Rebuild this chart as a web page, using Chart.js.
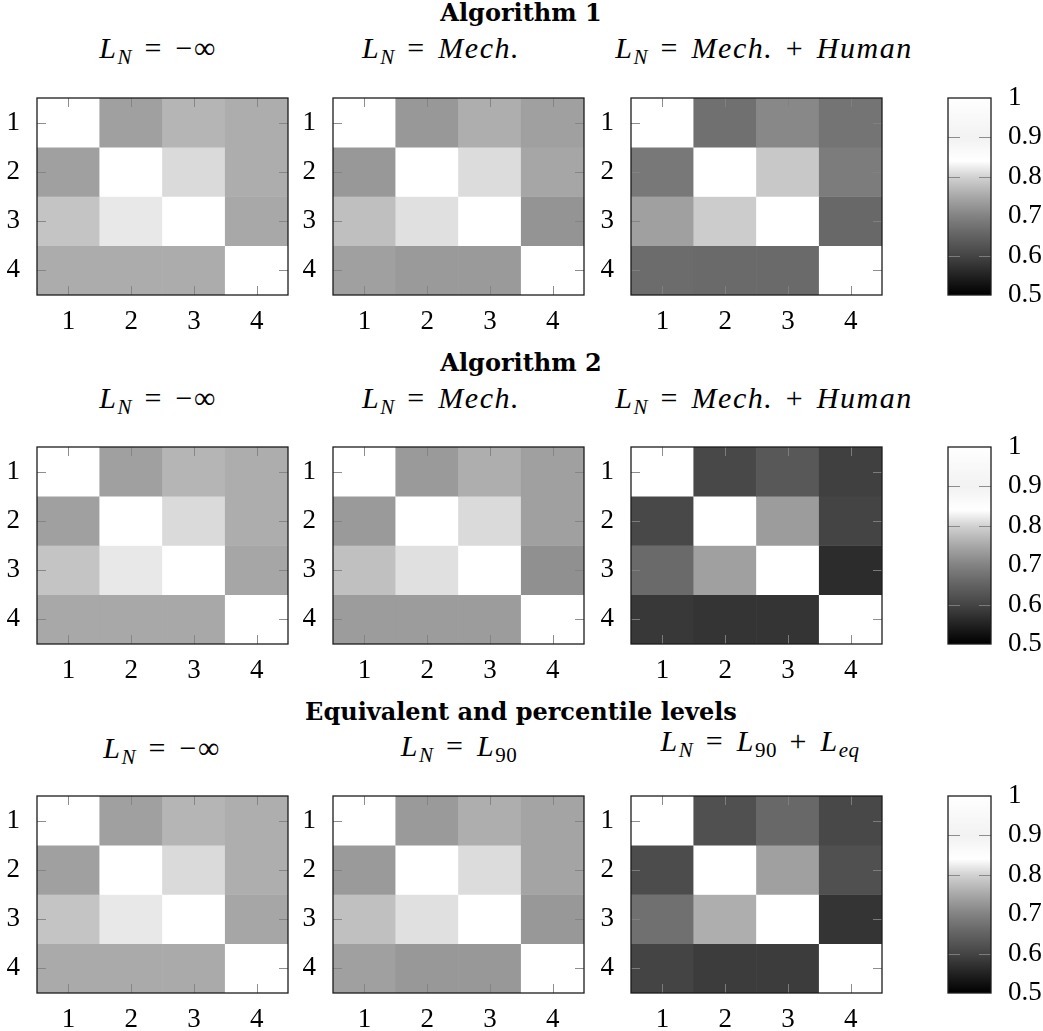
<!DOCTYPE html>
<html>
<head>
<meta charset="utf-8">
<script src="https://cdn.jsdelivr.net/npm/chart.js@4.4.0/dist/chart.umd.min.js"></script>
<style>
  html, body { margin: 0; padding: 0; background: #fff; }
  body { position: relative; width: 1043px; height: 1031px; overflow: hidden; font-family: "Liberation Serif", serif; color: #000; }
  canvas { position: absolute; }
  .title { position: absolute; transform: translate(-50%, -50%); white-space: nowrap; line-height: 1;
           font-family: "DejaVu Serif", serif; font-weight: bold; font-size: 24px; }
  .sub { position: absolute; transform: translate(-50%, -50%); white-space: nowrap; line-height: 1;
         font-family: "Liberation Serif", serif; font-size: 30px; letter-spacing: 1.5px; }
  .sub sub { font-size: 70%; vertical-align: -0.3em; line-height: 0; letter-spacing: 0.5px; }
  .sub .op { margin: 0 0.42em; font-style: normal; }
</style>
</head>
<body>
<script>
// ---- tick labels ----
const tickLabels = ['1', '2', '3', '4'];
const colorbarTicks = [0.5, 0.6, 0.7, 0.8, 0.9, 1];

// ---- group headings ----
const groupTitles = ['Algorithm 1', 'Algorithm 2', 'Equivalent and percentile levels'];
const panelTitles = [
  ['<i>L<sub>N</sub></i><span class="op">=</span>&minus;&infin;',
   '<i>L<sub>N</sub></i><span class="op">=</span><i>Mech.</i>',
   '<i>L<sub>N</sub></i><span class="op">=</span><i>Mech.</i><span class="op">+</span><i>Human</i>'],
  ['<i>L<sub>N</sub></i><span class="op">=</span>&minus;&infin;',
   '<i>L<sub>N</sub></i><span class="op">=</span><i>Mech.</i>',
   '<i>L<sub>N</sub></i><span class="op">=</span><i>Mech.</i><span class="op">+</span><i>Human</i>'],
  ['<i>L<sub>N</sub></i><span class="op">=</span>&minus;&infin;',
   '<i>L<sub>N</sub></i><span class="op">=</span><i>L</i><sub>90</sub>',
   '<i>L<sub>N</sub></i><span class="op">=</span><i>L</i><sub>90</sub><span class="op">+</span><i>L<sub>eq</sub></i>']
];

// ---- similarity matrices (row i, column j) ----
const alg1NoNoise = [
  [1, 0.740, 0.765, 0.756],
  [0.740, 1, 0.807, 0.756],
  [0.783, 0.820, 1, 0.750],
  [0.755, 0.755, 0.755, 1]
];
const alg1Mech = [
  [1, 0.729, 0.757, 0.740],
  [0.729, 1, 0.809, 0.747],
  [0.777, 0.812, 1, 0.724],
  [0.740, 0.732, 0.732, 1]
];
const alg1MechHuman = [
  [1, 0.672, 0.708, 0.678],
  [0.684, 1, 0.788, 0.691],
  [0.740, 0.793, 1, 0.659],
  [0.666, 0.663, 0.663, 1]
];
const alg2NoNoise = [
  [1, 0.740, 0.765, 0.756],
  [0.740, 1, 0.807, 0.756],
  [0.783, 0.820, 1, 0.747],
  [0.750, 0.750, 0.750, 1]
];
const alg2Mech = [
  [1, 0.732, 0.757, 0.740],
  [0.732, 1, 0.807, 0.740],
  [0.779, 0.812, 1, 0.718],
  [0.734, 0.734, 0.734, 1]
];
const alg2MechHuman = [
  [1, 0.605, 0.633, 0.593],
  [0.605, 1, 0.734, 0.599],
  [0.663, 0.740, 1, 0.564],
  [0.581, 0.576, 0.576, 1]
];
const levelsNoNoise = [
  [1, 0.740, 0.765, 0.757],
  [0.740, 1, 0.807, 0.757],
  [0.783, 0.820, 1, 0.747],
  [0.752, 0.752, 0.752, 1]
];
const levelsL90 = [
  [1, 0.732, 0.757, 0.745],
  [0.732, 1, 0.809, 0.745],
  [0.779, 0.812, 1, 0.729],
  [0.740, 0.729, 0.729, 1]
];
const levelsL90Leq = [
  [1, 0.619, 0.659, 0.605],
  [0.612, 1, 0.740, 0.619],
  [0.672, 0.757, 1, 0.576],
  [0.599, 0.587, 0.587, 1]
];

const panelRows = [
  [alg1NoNoise, alg1Mech, alg1MechHuman],
  [alg2NoNoise, alg2Mech, alg2MechHuman],
  [levelsNoNoise, levelsL90, levelsL90Leq]
];

// ---- grey colour map: value -> grey level ----
const cmapStops = [[0.5, 0], [0.55, 34], [0.6, 69], [0.65, 98], [0.7, 130], [0.75, 168],
                   [0.8, 210], [0.84, 255], [0.9, 242], [1, 255]];
function greyLevel(v) {
  if (v <= cmapStops[0][0]) return cmapStops[0][1];
  for (let i = 1; i < cmapStops.length; i++) {
    const [v1, g1] = cmapStops[i];
    const [v0, g0] = cmapStops[i - 1];
    if (v <= v1) return g0 + (g1 - g0) * (v - v0) / (v1 - v0);
  }
  return cmapStops[cmapStops.length - 1][1];
}
function greyFor(v) {
  const g = Math.round(greyLevel(v));
  return `rgb(${g},${g},${g})`;
}

// ---- page geometry ----
const plotLefts = [37, 333, 631];
const plotTops = [98, 447, 796];
const plotW = 251, plotH = 197;
const padL = 45, padR = 5, padT = 3, padB = 45;
const cbLeft = 948, cbW = 43;

const titleY = [13, 363, 712];
const subX = [[158, 441, 764], [158, 441, 764], [162, 459, 760]];
const subY = [[48, 48, 48], [398, 398, 398], [748, 746, 741]];

const tickFont = { family: 'Liberation Serif', size: 27 };

// keep the chart area exactly where the axis sizes put it
function fixAxis(size, key) {
  return (s) => {
    s[key] = size;
    s.paddingTop = 0; s.paddingBottom = 0; s.paddingLeft = 0; s.paddingRight = 0;
  };
}

// Inner tick marks and the black frame around each plot area
const framePlugin = {
  id: 'frame',
  afterDatasetsDraw(chart, args, opts) {
    const { ctx, chartArea: a } = chart;
    const len = opts.len || 8;
    ctx.save();
    ctx.strokeStyle = 'rgba(130,130,130,0.9)';
    ctx.lineWidth = 1;
    const seg = (x0, y0, x1, y1) => { ctx.beginPath(); ctx.moveTo(x0, y0); ctx.lineTo(x1, y1); ctx.stroke(); };
    if (opts.x) {
      const sx = chart.scales.x;
      sx.ticks.forEach((t, i) => {
        const p = Math.round(sx.getPixelForTick(i)) + 0.5;
        seg(p, a.top, p, a.top + len);
        seg(p, a.bottom, p, a.bottom - len);
      });
    }
    if (opts.y) {
      const sy = chart.scales.y;
      sy.ticks.forEach((t) => {
        if (opts.skipEnds && (t.value === sy.min || t.value === sy.max)) return;
        const p = Math.round(sy.getPixelForValue(t.value)) + 0.5;
        seg(a.left, p, a.left + len, p);
        seg(a.right, p, a.right - len, p);
      });
    }
    ctx.strokeStyle = '#1c1c1c';
    ctx.lineWidth = 1.3;
    ctx.strokeRect(a.left, a.top, a.right - a.left, a.bottom - a.top);
    ctx.restore();
  }
};
Chart.register(framePlugin);

function makeCanvas(left, top, w, h) {
  const c = document.createElement('canvas');
  c.width = w; c.height = h;
  c.style.left = left + 'px'; c.style.top = top + 'px';
  c.style.width = w + 'px'; c.style.height = h + 'px';
  document.body.appendChild(c);
  return c;
}

function heatmap(matrix, plotLeft, plotTop) {
  const W = padL + plotW + padR, H = padT + plotH + padB;
  const canvas = makeCanvas(plotLeft - padL, plotTop - padT, W, H);
  new Chart(canvas, {
    type: 'bar',
    data: {
      labels: tickLabels,
      datasets: matrix.map((row, r) => ({
        data: row.map(() => [r + 0.5, r + 1.5]),
        backgroundColor: row.map(greyFor),
        borderWidth: 0,
        grouped: false,
        barPercentage: 1,
        categoryPercentage: 1
      }))
    },
    options: {
      responsive: false,
      animation: false,
      devicePixelRatio: 1,
      events: [],
      layout: { padding: { top: padT, right: padR, left: 0, bottom: 0 } },
      plugins: { legend: { display: false }, tooltip: { enabled: false }, frame: { x: true, y: true, len: 9 } },
      scales: {
        x: {
          grid: { display: false }, border: { display: false },
          ticks: { font: tickFont, color: '#000', padding: 3, maxRotation: 0 },
          afterFit: fixAxis(padB, 'height')
        },
        y: {
          type: 'linear', reverse: true, min: 0.5, max: 4.5,
          grid: { display: false }, border: { display: false },
          afterBuildTicks: (s) => { s.ticks = tickLabels.map((_, i) => ({ value: i + 1 })); },
          ticks: { font: tickFont, color: '#000', padding: 9, callback: (v) => tickLabels[v - 1] },
          afterFit: fixAxis(padL, 'width')
        }
      }
    }
  });
}

function colorbar(plotTop) {
  const cbPadL = 3, cbPadV = 18, axisW = 52;
  const W = cbPadL + cbW + axisW, H = cbPadV * 2 + plotH;
  const canvas = makeCanvas(cbLeft - cbPadL, plotTop - cbPadV, W, H);
  new Chart(canvas, {
    type: 'bar',
    data: {
      labels: [''],
      datasets: [{
        data: [[colorbarTicks[0], colorbarTicks[colorbarTicks.length - 1]]],
        backgroundColor: (ctx) => {
          const chart = ctx.chart;
          const sy = chart.scales.y;
          if (!sy || !chart.chartArea) return '#888';
          const y0 = sy.getPixelForValue(sy.min), y1 = sy.getPixelForValue(sy.max);
          const grad = chart.ctx.createLinearGradient(0, y0, 0, y1);
          cmapStops.forEach(([v, g]) => {
            grad.addColorStop((v - sy.min) / (sy.max - sy.min), `rgb(${g},${g},${g})`);
          });
          return grad;
        },
        borderWidth: 0,
        barPercentage: 1,
        categoryPercentage: 1
      }]
    },
    options: {
      responsive: false,
      animation: false,
      devicePixelRatio: 1,
      events: [],
      layout: { padding: { top: cbPadV, bottom: cbPadV, left: cbPadL, right: 0 } },
      plugins: { legend: { display: false }, tooltip: { enabled: false }, frame: { x: false, y: true, skipEnds: true, len: 12 } },
      scales: {
        x: { display: false },
        y: {
          position: 'right', min: colorbarTicks[0], max: colorbarTicks[colorbarTicks.length - 1],
          grid: { display: false }, border: { display: false },
          afterBuildTicks: (s) => { s.ticks = colorbarTicks.map((v) => ({ value: v })); },
          ticks: { font: tickFont, color: '#000', padding: 9, callback: (v) => String(v) },
          afterFit: fixAxis(axisW, 'width')
        }
      }
    }
  });
}

function addText(cls, html, x, y) {
  const d = document.createElement('div');
  d.className = cls;
  d.innerHTML = html;
  d.style.left = x + 'px';
  d.style.top = y + 'px';
  document.body.appendChild(d);
}

panelRows.forEach((row, r) => {
  addText('title', groupTitles[r], 521, titleY[r]);
  row.forEach((matrix, c) => {
    addText('sub', panelTitles[r][c], subX[r][c], subY[r][c]);
    heatmap(matrix, plotLefts[c], plotTops[r]);
  });
  colorbar(plotTops[r]);
});
</script>
</body>
</html>
